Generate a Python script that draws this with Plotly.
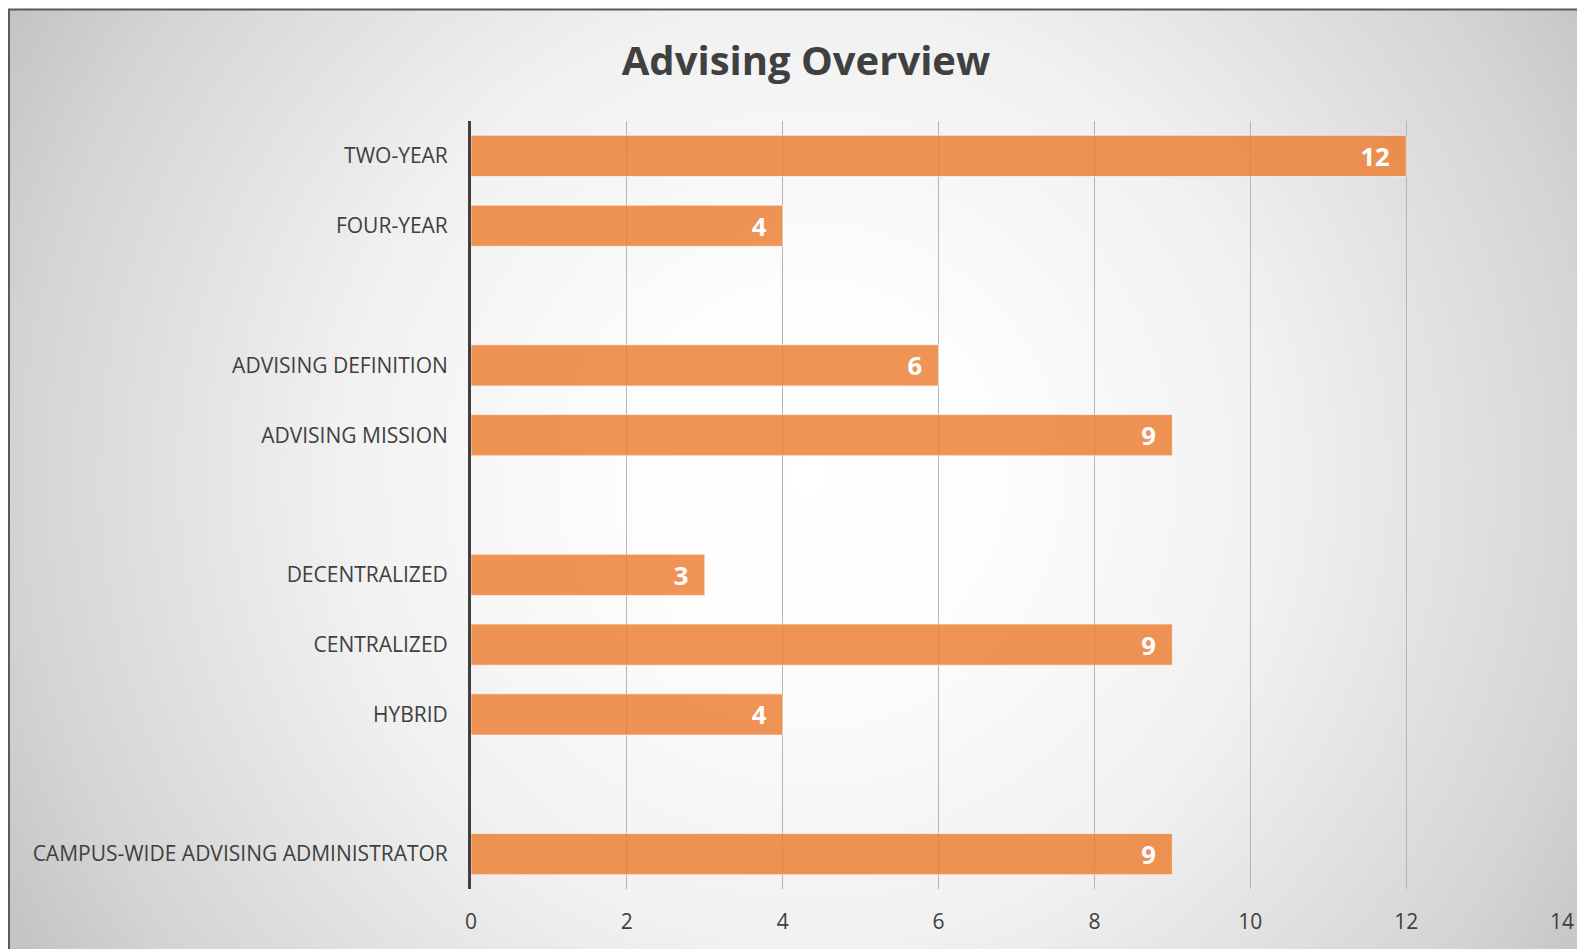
import base64
import plotly.graph_objects as go

categories = [
    "TWO-YEAR", "FOUR-YEAR", " ",
    "ADVISING DEFINITION", "ADVISING MISSION", "  ",
    "DECENTRALIZED", "CENTRALIZED", "HYBRID", "   ",
    "CAMPUS-WIDE ADVISING ADMINISTRATOR",
]
values = [12, 4, None, 6, 9, None, 3, 9, 4, None, 9]
x_ticks = [0, 2, 4, 6, 8, 10, 12, 14]

FONT = "Open Sans, sans-serif"

# page body has an 8px margin; figure coordinates below are page - 8
W, H = 1577, 941
L, R, T, B = 463, 23, 113, 60
pw, ph = W - L - R, H - T - B

def px_to_paper_x(px):
    return (px - L) / pw

def px_to_paper_y(py):
    return 1 - (py - T) / ph

bx0, by0 = 1, 1.5
bx1, by1 = W + 20, H + 20
bw, bh = bx1 - bx0, by1 - by0

svg = (
    f'<svg xmlns="http://www.w3.org/2000/svg" width="{bw}" height="{bh}" '
    f'viewBox="0 0 {bw} {bh}" preserveAspectRatio="none">'
    '<defs><radialGradient id="g" cx="801" cy="466" r="920" '
    'gradientUnits="userSpaceOnUse">'
    '<stop offset="0" stop-color="#ffffff"/>'
    '<stop offset="0.2" stop-color="#fdfdfd"/>'
    '<stop offset="0.51" stop-color="#f1f1f1"/>'
    '<stop offset="0.86" stop-color="#d4d4d4"/>'
    '<stop offset="1" stop-color="#c4c4c4"/>'
    '</radialGradient></defs>'
    f'<rect x="0" y="0" width="{bw}" height="{bh}" fill="url(#g)"/></svg>'
)
src = "data:image/svg+xml;base64," + base64.b64encode(svg.encode()).decode()

fig = go.Figure()
fig.add_trace(go.Bar(
    y=categories,
    x=values,
    orientation="h",
    marker=dict(color="rgba(237,125,49,0.82)",
                line=dict(color="rgba(255,255,255,0.6)", width=1)),
    texttemplate="%{x}\u00a0\u00a0",
    textposition="inside",
    insidetextanchor="end",
    textangle=0,
    textfont=dict(family=FONT, size=27, color="white", weight="bold"),
    hoverinfo="skip",
    cliponaxis=False,
))

fig.add_layout_image(dict(
    source=src, xref="paper", yref="paper",
    x=px_to_paper_x(bx0), y=px_to_paper_y(by0),
    sizex=px_to_paper_x(bx1) - px_to_paper_x(bx0),
    sizey=px_to_paper_y(by0) - px_to_paper_y(by1),
    xanchor="left", yanchor="top", sizing="stretch", layer="below",
))
fig.add_shape(type="rect", xref="paper", yref="paper",
              x0=px_to_paper_x(bx0), x1=px_to_paper_x(bx1),
              y0=px_to_paper_y(by1), y1=px_to_paper_y(by0),
              line=dict(color="#5a5a5a", width=2), fillcolor="rgba(0,0,0,0)",
              layer="above")

fig.update_layout(
    width=W, height=H,
    margin=dict(l=L, r=R, t=T, b=B),
    paper_bgcolor="white",
    plot_bgcolor="rgba(0,0,0,0)",
    showlegend=False,
    bargap=0.41,
    title=dict(text="<b>Advising Overview</b>", x=798 / W, xanchor="center",
               y=1 - 53 / H, yanchor="middle",
               font=dict(family=FONT, size=40, color="#404040")),
    xaxis=dict(range=[0, 14], tickvals=x_ticks, showgrid=True,
               gridcolor="#b4b4b4", gridwidth=1, zeroline=False,
               showline=False, ticks="", ticklabelstandoff=18,
               tickfont=dict(family=FONT, size=21, color="#404040")),
    yaxis=dict(categoryorder="array", categoryarray=categories,
               autorange="reversed", showgrid=False, zeroline=False,
               showline=True, linecolor="#404040", linewidth=3,
               ticks="", ticklabelstandoff=16,
               tickfont=dict(family=FONT, size=21, color="#404040")),
)

fig.write_html("out.html")
